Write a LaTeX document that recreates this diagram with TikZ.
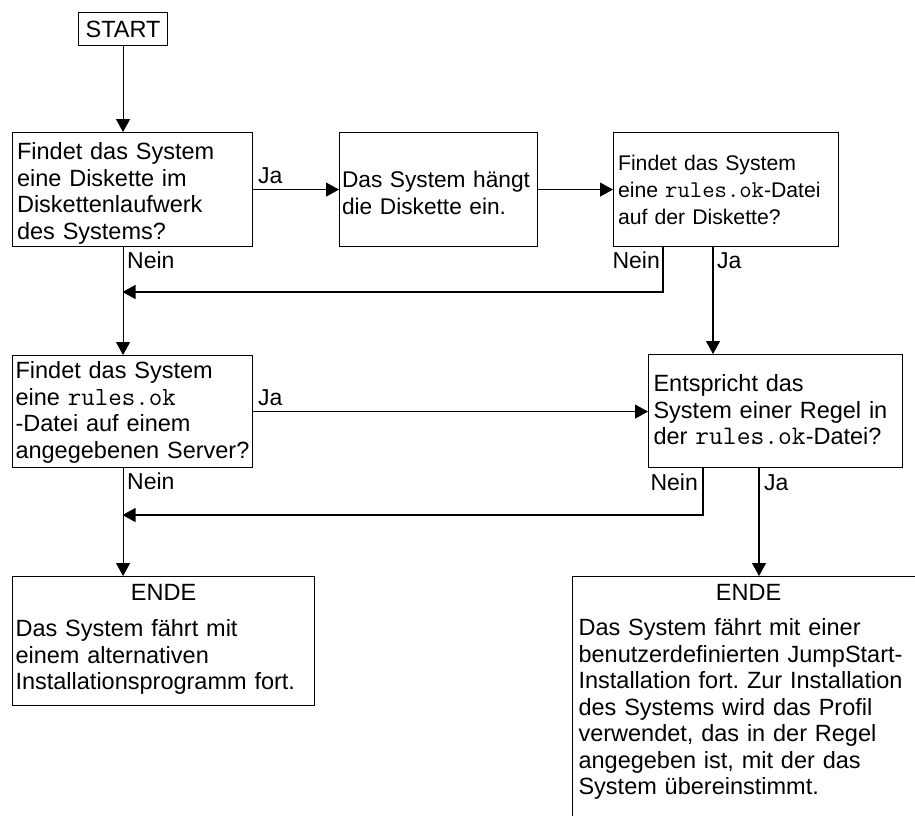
\documentclass[tikz,border=0pt]{standalone}
\usepackage{fontspec}
\setmainfont{Liberation Sans}
\usetikzlibrary{arrows.meta}
\newcommand{\fsbig}{\fontsize{23.5}{26.5}\selectfont}
\newcommand{\fsmid}{\fontsize{22.7}{27}\selectfont}
\newcommand{\fssmall}{\fontsize{21.2}{27}\selectfont}
\newcommand{\fname}[2]{{\fontsize{#1}{26.5}\selectfont\ttfamily #2}}
\frenchspacing
\begin{document}
\begin{tikzpicture}[x=1pt,y=-1pt,
  bx/.style={draw, line width=1.1pt, anchor=north west, inner ysep=0pt, align=left, font=\fsbig},
  arr/.style={line width=1.1pt, -{Triangle[width=14pt,length=13pt]}},
  lbl/.style={inner sep=0pt, font=\fontsize{23}{26}\selectfont}]
\useasboundingbox (0,0) rectangle (915,815);
\clip (0,0) rectangle (915,815);

\node[bx, align=center, text width=89pt, inner xsep=0pt, text height=24.7pt, text depth=8.3pt] (start) at (78,12) {START};

\node[bx, text width=231pt, inner xsep=4.5pt, text height=27pt, text depth=87pt] (b1) at (12,132)
  {\mbox{Findet das System}\\\mbox{eine Diskette im}\\\mbox{Diskettenlaufwerk}\\\mbox{des Systems?}};
\node[bx, font=\fsmid, text width=193pt, inner xsep=2.5pt, text height=55pt, text depth=59pt] (b2) at (339,132)
  {\mbox{Das System hängt}\\\mbox{die Diskette ein.}};
\node[bx, font=\fssmall, text width=216pt, inner xsep=4.5pt, text height=38pt, text depth=76pt] (b3) at (613,132)
  {\mbox{Findet das System}\\\mbox{eine \fname{24}{rules.ok}-Datei}\\\mbox{auf der Diskette?}};
\node[bx, text width=234pt, inner xsep=3pt, text height=23pt, text depth=89pt] (b4) at (12,355)
  {\mbox{Findet das System}\\\mbox{eine \fname{26.2}{rules.ok}}\\\mbox{-Datei auf einem}\\\mbox{angegebenen Server?}};
\node[bx, text width=244pt, inner xsep=5pt, text height=37pt, text depth=76pt] (b5) at (648,354)
  {\mbox{Entspricht das}\\\mbox{System einer Regel in}\\\mbox{der \fname{26.8}{rules.ok}-Datei?}};
\node[bx, text width=296pt, inner xsep=3pt, text height=23.5pt, text depth=105.5pt] (e1) at (12,576)
  {{\centering ENDE\par}\vspace{10pt}Das System fährt mit\\einem alternativen\\Installationsprogramm fort.};
\node[bx, text width=340pt, inner xsep=6pt, text height=24pt, text depth=260pt] (e2) at (572,576)
  {{\centering ENDE\par}\vspace{8.5pt}Das System fährt mit einer\\benutzerdefinierten JumpStart-\\Installation fort. Zur Installation\\des Systems wird das Profil\\verwendet, das in der Regel\\angegeben ist, mit der das\\System übereinstimmt.};

\node[lbl, anchor=base west] (ja1) at (258,183) {Ja};
\node[lbl, anchor=base west] (nein1) at (127,268) {Nein};
\node[lbl, anchor=base east] (nein2) at (660,268) {Nein};
\node[lbl, anchor=base west] (ja2) at (717,268) {Ja};
\node[lbl, anchor=base west] (ja3) at (258,405) {Ja};
\node[lbl, anchor=base west] (nein3) at (127,489) {Nein};
\node[lbl, anchor=base east] (nein4) at (698,490) {Nein};
\node[lbl, anchor=base west] (ja4) at (764,490) {Ja};

\coordinate (j1) at (122.5,292);
\coordinate (j2) at (122.5,515);
\coordinate (p3n) at ([xshift=50pt]b3.south west);
\coordinate (p3j) at ([xshift=100pt]b3.south west);
\coordinate (p5n) at ([xshift=55pt]b5.south west);
\coordinate (p5j) at ([xshift=111pt]b5.south west);

\draw[arr] (start.south) -- (start.south |- b1.north);
\draw[arr] (b1.east) -- (b2.west);
\draw[arr] (b2.east) -- (b3.west);
\draw[arr] (p3n) |- (j1);
\draw[arr] (p3j) -- (p3j |- b5.north);
\draw[arr] (start.south |- b1.south) -- (start.south |- b4.north);
\draw[arr] (b4.east) -- (b4.east -| b5.west);
\draw[arr] (p5n) |- (j2);
\draw[arr] (p5j) -- (p5j |- e2.north);
\draw[arr] (start.south |- b4.south) -- (start.south |- e1.north);
\end{tikzpicture}
\end{document}
